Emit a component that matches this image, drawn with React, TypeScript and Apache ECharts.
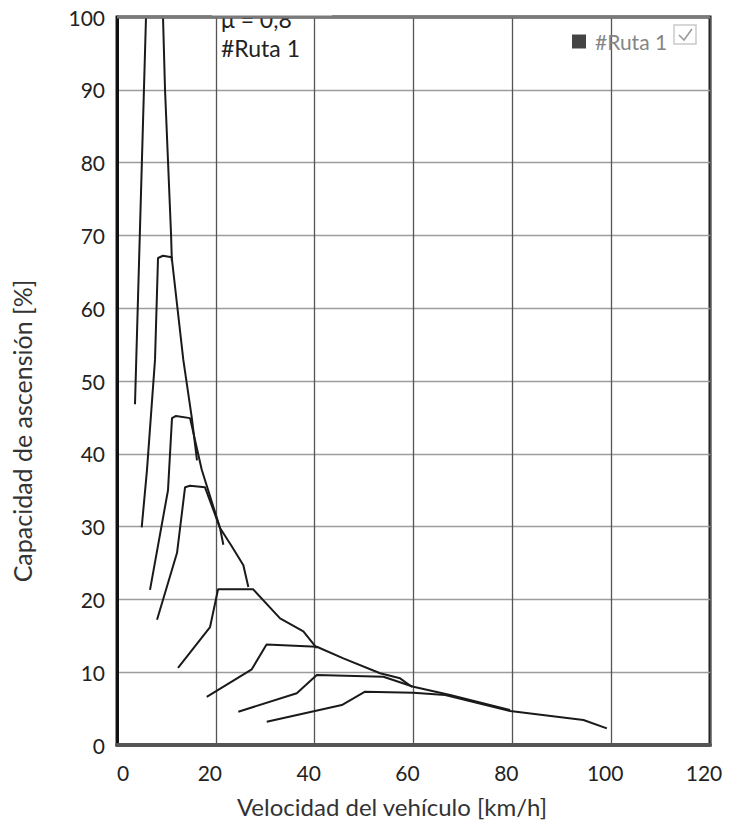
import React, { useEffect, useRef } from "react";
import * as echarts from "echarts";

// Traction diagram: climbing ability per gear versus vehicle speed.
// Each gear: [speed km/h, climbing ability %]
const gear1: [number, number][] = [
  [3.64, 46.8], [5.87, 100], [6.1, 107], [8.8, 107], [9.31, 100], [9.72, 90.0], [10.93, 70.3], [11.1, 66.5],
];
const gear2: [number, number][] = [
  [5.0, 29.9], [6.07, 37.8], [7.69, 52.9], [8.3, 66.9], [9.31, 67.2], [11.07, 67.0], [13.42, 52.9], [15.12, 45.05], [16.19, 39.1],
];
const gear3: [number, number][] = [
  [6.68, 21.3], [10.32, 35.0], [11.13, 44.9], [11.94, 45.2], [14.78, 44.9], [17.15, 37.8], [20.85, 29.8], [21.52, 27.5],
];
const gear4: [number, number][] = [
  [8.1, 17.2], [12.15, 26.4], [13.77, 35.4], [14.78, 35.6], [17.81, 35.4], [20.85, 29.8], [23.22, 27.3], [25.57, 24.7], [26.58, 21.7],
];
const gear5: [number, number][] = [
  [12.35, 10.6], [18.83, 16.2], [20.45, 21.4], [27.53, 21.4], [33.0, 17.4], [37.71, 15.6], [40.43, 13.3],
];
const gear6: [number, number][] = [
  [18.16, 6.6], [27.27, 10.4], [30.26, 13.8], [40.43, 13.5], [45.81, 11.9], [53.24, 9.85], [57.29, 9.16], [59.72, 7.97],
];
const gear7: [number, number][] = [
  [24.55, 4.57], [36.38, 7.1], [40.43, 9.6], [53.91, 9.38], [59.98, 8.0], [67.41, 6.87], [79.55, 4.8],
];
const gear8: [number, number][] = [
  [30.3, 3.2], [45.49, 5.49], [50.2, 7.32], [59.98, 7.18], [66.4, 6.87], [79.55, 4.67], [94.39, 3.43], [99.13, 2.29],
];
const gears = [gear1, gear2, gear3, gear4, gear5, gear6, gear7, gear8];

const SERIES_NAME = "#Ruta 1";
const X_TITLE = "Velocidad del vehículo [km/h]";
const Y_TITLE = "Capacidad de ascensión [%]";
const NOTE_MU = "μ = 0,8";
const NOTE_ROUTE = "#Ruta 1";

const FONT = "Lato, 'Open Sans', sans-serif";
const GRID = { left: 117, top: 17, width: 593, height: 728 };

export default function App() {
  const ref = useRef<HTMLDivElement>(null);

  useEffect(() => {
    if (!ref.current) return;
    const chart = echarts.init(ref.current, undefined, { renderer: "svg" });
    const right = GRID.left + GRID.width;

    chart.setOption({
      animation: false,
      backgroundColor: "#ffffff",
      grid: {
        left: GRID.left,
        top: GRID.top,
        width: GRID.width,
        height: GRID.height,
        show: true,
        borderColor: "#1e1e1e",
        borderWidth: 3,
        containLabel: false,
      },
      legend: {
        left: 567,
        top: 26,
        icon: "rect",
        itemWidth: 14,
        itemHeight: 14,
        selectedMode: false,
        data: [{ name: SERIES_NAME, itemStyle: { color: "#444" } }],
        textStyle: { color: "#858585", fontSize: 21, fontFamily: FONT, padding: [0, 0, 0, 4] },
      },
      xAxis: {
        type: "value",
        min: 0,
        max: 120,
        interval: 20,
        axisLine: { show: true, onZero: false, lineStyle: { color: "#555", width: 4 } },
        axisTick: { show: false },
        axisLabel: {
          margin: 17,
          color: "#222",
          fontSize: 21,
          fontFamily: FONT,
          formatter: (v: number) => (v === 0 ? "{z|0}" : "{n|" + v + "}"),
          rich: {
            z: { fontSize: 21, fontFamily: FONT, color: "#222", padding: [0, 0, 0, 12] },
            n: { fontSize: 21, fontFamily: FONT, color: "#222", padding: [0, 12, 0, 0] },
          },
        },
        splitLine: { show: true, lineStyle: { color: "#555", width: 1.3 } },
      },
      yAxis: {
        type: "value",
        min: 0,
        max: 100,
        interval: 10,
        axisLine: { show: true, lineStyle: { color: "#111", width: 3 } },
        axisTick: { show: false },
        axisLabel: { margin: 12, color: "#222", fontSize: 21, fontFamily: FONT },
        splitLine: { show: true, lineStyle: { color: "#9c9c9c", width: 1.3 } },
      },
      series: gears.map((g) => ({
        type: "line",
        name: SERIES_NAME,
        data: g,
        symbol: "none",
        showSymbol: false,
        clip: true,
        silent: true,
        color: "#444",
        lineStyle: { color: "#1a1a1a", width: 2 },
      })),
      graphic: [
        {
          type: "text",
          z: 50,
          x: 221,
          y: 19,
          style: { text: NOTE_MU, fill: "#222", font: "23px " + FONT, align: "left", verticalAlign: "middle", textAlign: "left", textVerticalAlign: "middle" },
        },
        {
          type: "text",
          z: 50,
          x: 221,
          y: 48,
          style: { text: NOTE_ROUTE, fill: "#222", font: "23px " + FONT, align: "left", verticalAlign: "middle", textAlign: "left", textVerticalAlign: "middle" },
        },
        { type: "rect", z: 60, shape: { x: 212, y: 0, width: 120, height: 16 }, style: { fill: "#ffffff" } },
        {
          type: "line",
          z: 61,
          shape: { x1: GRID.left, y1: GRID.top, x2: right, y2: GRID.top },
          style: { stroke: "#7a7a7a", lineWidth: 3 },
        },
        {
          type: "rect",
          z: 61,
          shape: { x: 674, y: 25, width: 22, height: 19 },
          style: { fill: "none", stroke: "#cacaca", lineWidth: 1.5 },
        },
        {
          type: "polyline",
          z: 62,
          shape: { points: [[679, 35], [684, 40], [692, 29]] },
          style: { fill: "none", stroke: "#9a9a9a", lineWidth: 1.6 },
        },
        {
          type: "text",
          z: 50,
          x: 392,
          y: 806,
          style: { text: X_TITLE, fill: "#333", font: "24px " + FONT, align: "center", verticalAlign: "middle", textAlign: "center", textVerticalAlign: "middle" },
        },
        {
          type: "text",
          z: 50,
          x: 22,
          y: 431,
          rotation: Math.PI / 2,
          style: { text: Y_TITLE, fill: "#333", font: "25px " + FONT, align: "center", verticalAlign: "middle", textAlign: "center", textVerticalAlign: "middle" },
        },
      ],
    });

    return () => chart.dispose();
  }, []);

  return (
    <div
      ref={ref}
      style={{ position: "absolute", left: 0, top: 0, width: 743, height: 821, background: "#fff" }}
    />
  );
}
